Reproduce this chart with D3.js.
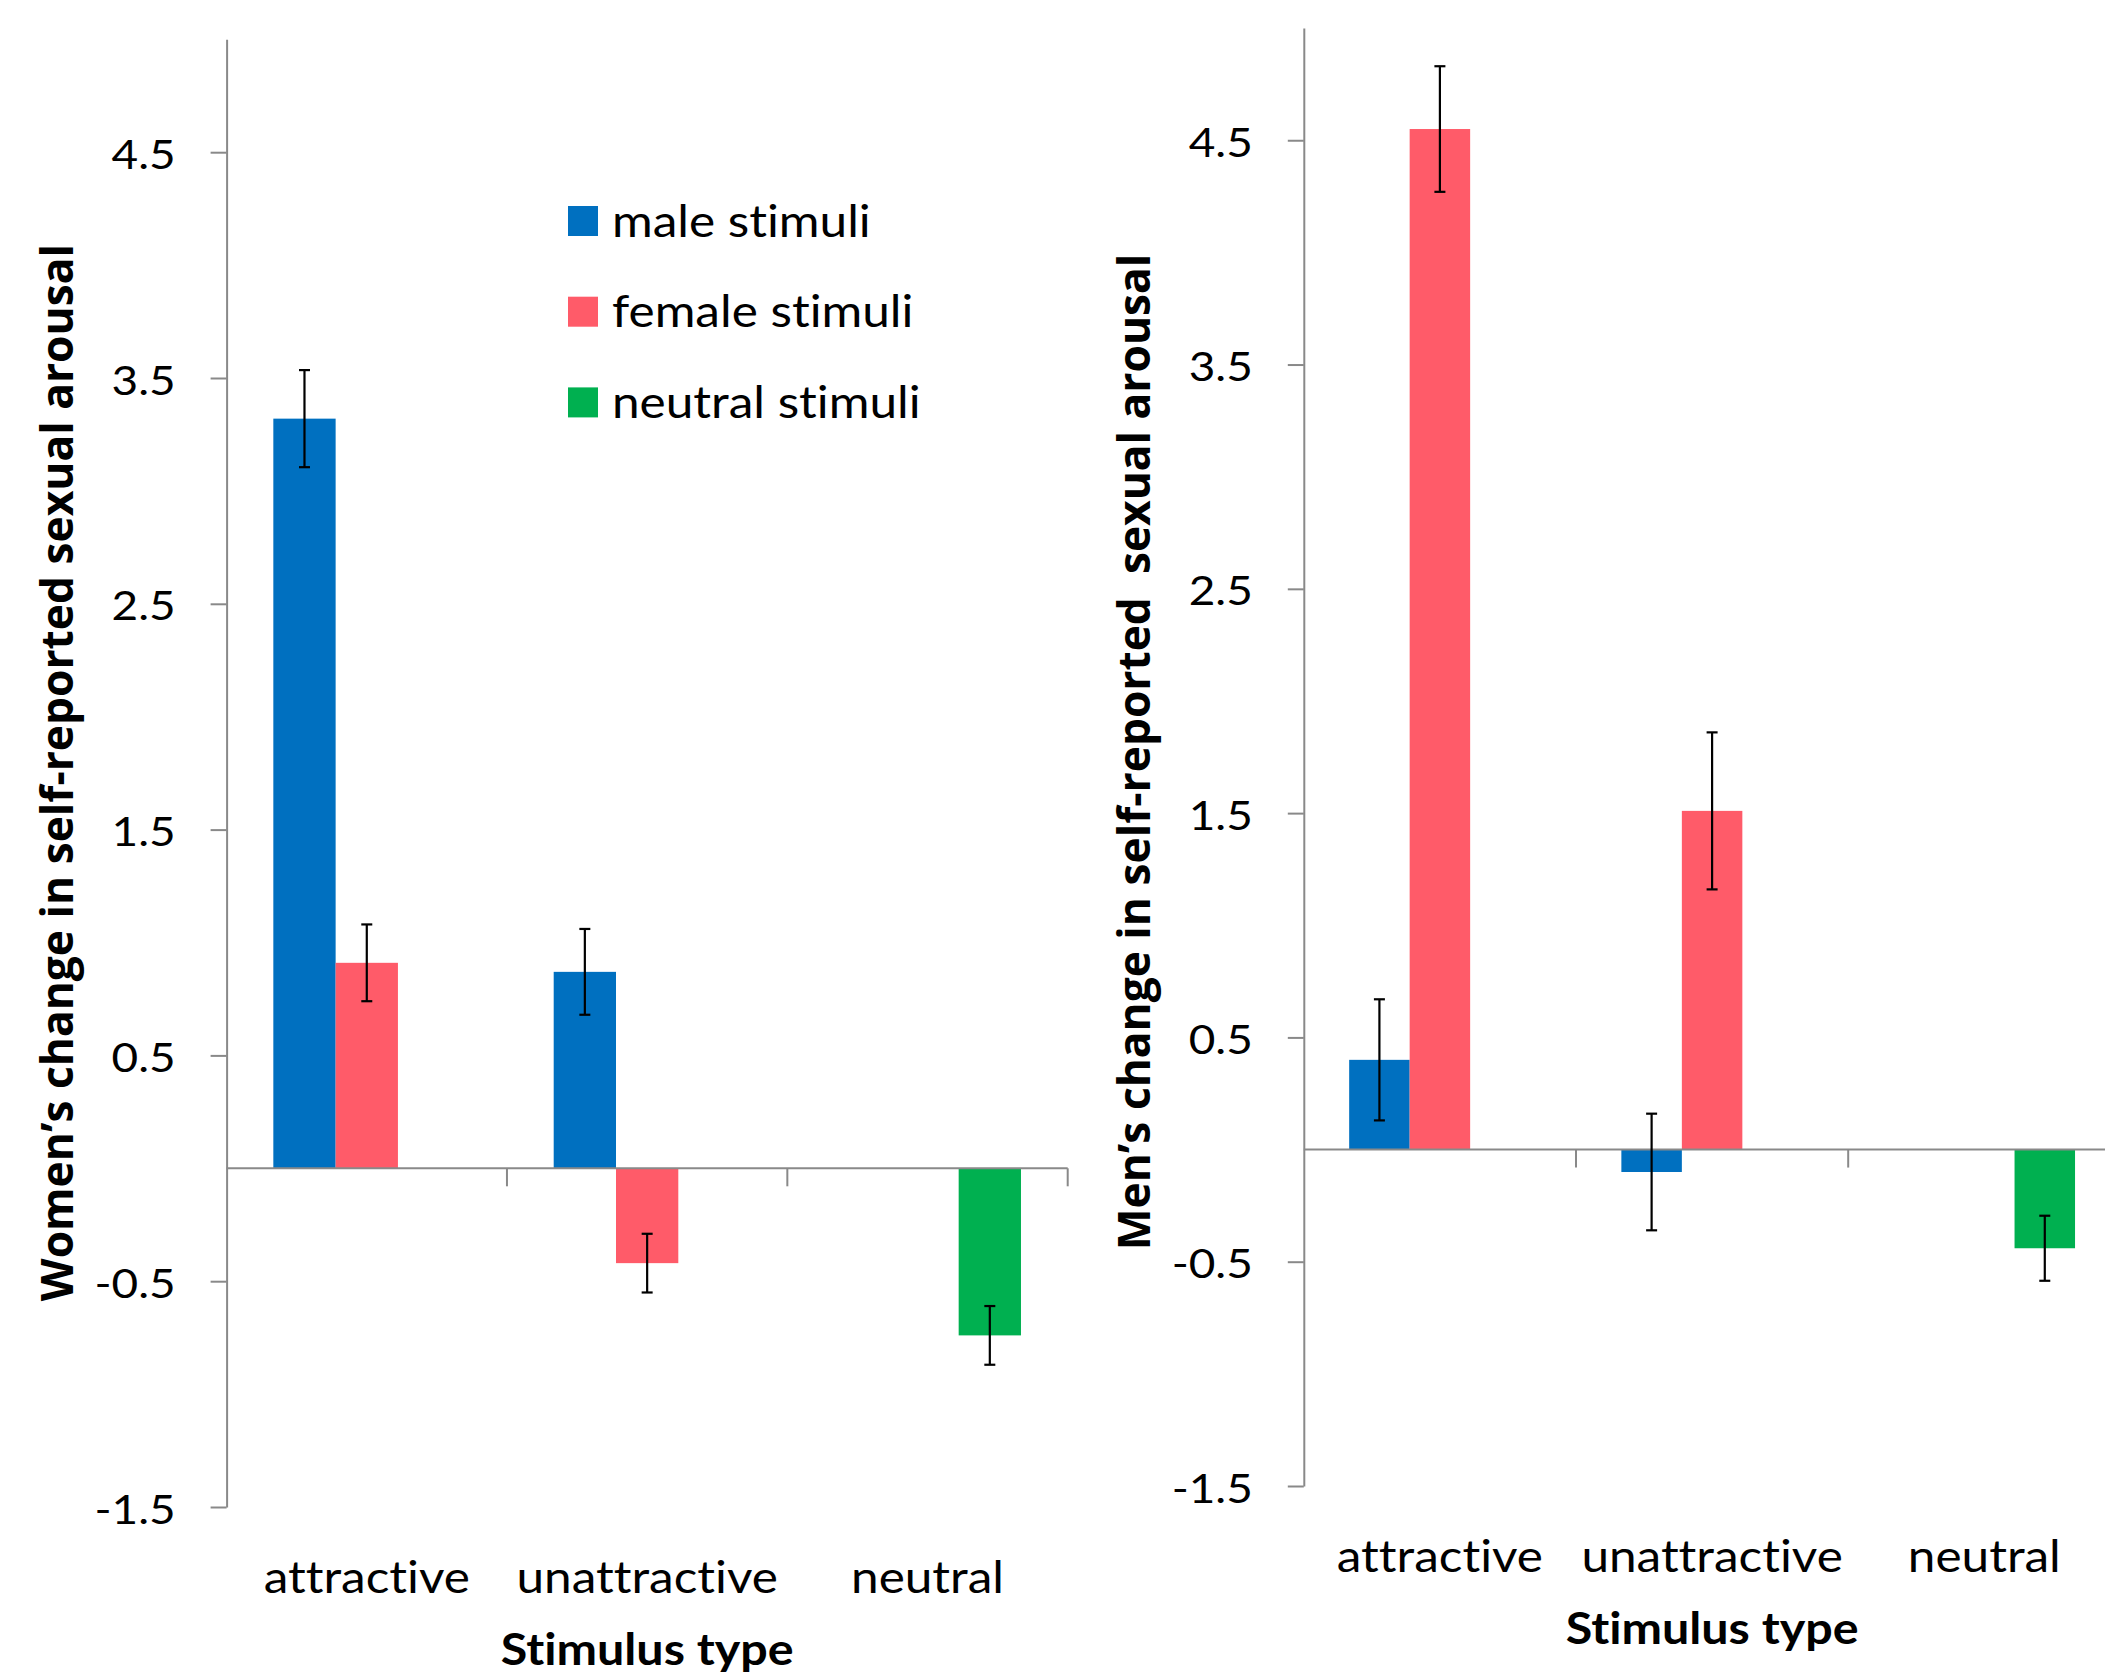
<!DOCTYPE html>
<html>
<head>
<meta charset="utf-8">
<script src="https://cdn.jsdelivr.net/npm/d3@7"></script>
<style>
  html, body { margin: 0; padding: 0; background: #ffffff; }
  svg { display: block; }
  text { font-variant-ligatures: none; font-feature-settings: "liga" 0, "clig" 0; }
</style>
</head>
<body>
<svg id="chart" width="2105" height="1675"></svg>
<script>
// ---- data ----
const categories = ["attractive", "unattractive", "neutral"];
const seriesNames = ["male stimuli", "female stimuli", "neutral stimuli"];
const seriesColors = ["#0070C0", "#FF5B69", "#00B050"];
const yTickValues = [-1.5, -0.5, 0.5, 1.5, 2.5, 3.5, 4.5];

// Women: mean change per stimulus type (null = no bar)
const womenMale    = [3.32, 0.87, null];
const womenFemale  = [0.91, -0.42, null];
const womenNeutral = [null, null, -0.74];
const womenMaleErr    = [0.215, 0.19, null];
const womenFemaleErr  = [0.17, 0.13, null];
const womenNeutralErr = [null, null, 0.13];

// Men
const menMale    = [0.40, -0.10, null];
const menFemale  = [4.55, 1.51, null];
const menNeutral = [null, null, -0.44];
const menMaleErr    = [0.27, 0.26, null];
const menFemaleErr  = [0.28, 0.35, null];
const menNeutralErr = [null, null, 0.145];

const svg = d3.select("#chart");
svg.append("rect").attr("width", 2105).attr("height", 1675).attr("fill", "#fff");

const AXIS_COLOR = "#898989";
const LABEL_FONT = "Lato, 'Open Sans', sans-serif";
const TITLE_FONT = "'Open Sans', 'Noto Sans', sans-serif";
const SX = 1.1; // horizontal stretch for the narrow label face

function panel(opts) {
  const { x0, x1, yTop, yBottom, values, errors, title, titleCenter } = opts;
  const g = svg.append("g");

  const y = d3.scaleLinear().domain([-1.5, 5]).range([yBottom, yTop]);
  const x = d3.scaleBand().domain(categories).range([x0, x1]).paddingInner(0).paddingOuter(0);
  const xs = d3.scaleBand().domain(seriesNames).range([0, x.bandwidth()])
    .paddingInner(0).paddingOuter(0.75);

  // bars
  const bars = [];
  seriesNames.forEach((s, si) => {
    categories.forEach((c, ci) => {
      const v = values[si][ci];
      if (v === null) return;
      bars.push({ s, si, c, v, e: errors[si][ci] });
    });
  });

  g.selectAll("rect.bar").data(bars).join("rect")
    .attr("class", "bar")
    .attr("x", d => x(d.c) + xs(d.s))
    .attr("width", xs.bandwidth())
    .attr("y", d => y(Math.max(0, d.v)))
    .attr("height", d => Math.abs(y(d.v) - y(0)))
    .attr("fill", d => seriesColors[d.si]);

  // y axis
  const yAxis = d3.axisLeft(y).tickValues(yTickValues).tickSize(16).tickSizeOuter(0)
    .tickFormat(d => String(d));
  const ya = g.append("g").attr("transform", `translate(${x0},0)`).call(yAxis);
  ya.select(".domain").attr("stroke", AXIS_COLOR).attr("stroke-width", 2);
  ya.selectAll(".tick line").attr("stroke", AXIS_COLOR).attr("stroke-width", 2);
  ya.selectAll(".tick text")
    .attr("x", null).attr("dy", null)
    .attr("transform", "translate(-51,16) scale(1.12,1)")
    .attr("fill", "#000")
    .style("font-family", LABEL_FONT)
    .style("font-size", "41px");

  // x axis line at zero with category boundary ticks
  const y0 = y(0);
  g.append("line").attr("x1", x0).attr("x2", x1).attr("y1", y0).attr("y2", y0)
    .attr("stroke", AXIS_COLOR).attr("stroke-width", 2);
  g.selectAll("line.xtick").data(categories).join("line")
    .attr("class", "xtick")
    .attr("x1", c => x(c) + x.bandwidth()).attr("x2", c => x(c) + x.bandwidth())
    .attr("y1", y0).attr("y2", y0 + 18)
    .attr("stroke", AXIS_COLOR).attr("stroke-width", 2);

  // error bars
  const cap = 5.5;
  const eb = g.selectAll("g.err").data(bars).join("g").attr("class", "err")
    .attr("stroke", "#000").attr("stroke-width", 2.2);
  eb.append("line")
    .attr("x1", d => x(d.c) + xs(d.s) + xs.bandwidth() / 2)
    .attr("x2", d => x(d.c) + xs(d.s) + xs.bandwidth() / 2)
    .attr("y1", d => y(d.v + d.e)).attr("y2", d => y(d.v - d.e));
  [1, -1].forEach(sign => {
    eb.append("line")
      .attr("x1", d => x(d.c) + xs(d.s) + xs.bandwidth() / 2 - cap)
      .attr("x2", d => x(d.c) + xs(d.s) + xs.bandwidth() / 2 + cap)
      .attr("y1", d => y(d.v + sign * d.e)).attr("y2", d => y(d.v + sign * d.e));
  });

  // category labels
  g.selectAll("text.cat").data(categories).join("text")
    .attr("class", "cat")
    .attr("transform", c => `translate(${x(c) + x.bandwidth() / 2},${yBottom + 86}) scale(${SX},1)`)
    .attr("text-anchor", "middle")
    .style("font-family", LABEL_FONT).style("font-size", "45px")
    .text(c => c);

  // x axis title
  g.append("text")
    .attr("transform", `translate(${x0 + 1.5 * x.bandwidth()},${yBottom + 158}) scale(${SX},1)`)
    .attr("text-anchor", "middle")
    .style("font-family", LABEL_FONT).style("font-size", "44px").style("font-weight", 700)
    .text("Stimulus type");

  // y axis title
  g.append("text")
    .attr("transform", `translate(${x0 - 154},${titleCenter}) rotate(-90)`)
    .attr("text-anchor", "middle")
    .style("font-family", TITLE_FONT).style("font-size", "44.3px").style("font-weight", 700)
    .style("white-space", "pre")
    .text(title);

  return { x, y };
}

panel({
  x0: 226.6, x1: 1067.7, yTop: 39.3, yBottom: 1507, titleCenter: 772.6,
  values: [womenMale, womenFemale, womenNeutral],
  errors: [womenMaleErr, womenFemaleErr, womenNeutralErr],
  title: "Women’s change in self-reported sexual arousal"
});

panel({
  x0: 1303.8, x1: 2120.4, yTop: 28.1, yBottom: 1486, titleCenter: 752,
  values: [menMale, menFemale, menNeutral],
  errors: [menMaleErr, menFemaleErr, menNeutralErr],
  title: "Men’s change in self-reported  sexual arousal"
});

// legend
const legend = svg.append("g").attr("transform", "translate(568,206)");
const li = legend.selectAll("g").data(seriesNames).join("g")
  .attr("transform", (d, i) => `translate(0,${i * 90.7})`);
li.append("rect").attr("width", 30).attr("height", 30)
  .attr("fill", (d, i) => seriesColors[i]);
li.append("text")
  .attr("transform", `translate(44,30.5) scale(${SX},1)`)
  .style("font-family", LABEL_FONT).style("font-size", "45px")
  .text(d => d);
</script>
</body>
</html>
